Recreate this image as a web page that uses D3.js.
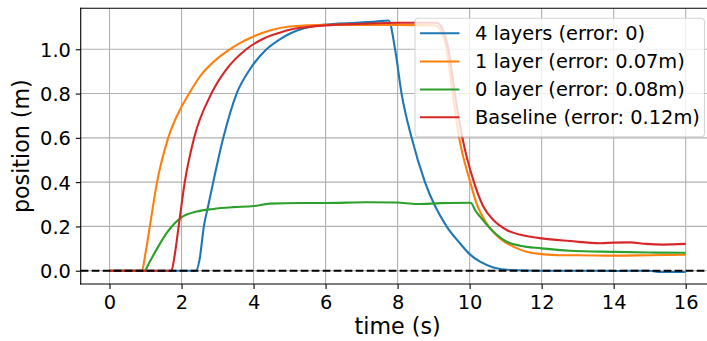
<!DOCTYPE html>
<html>
<head>
<meta charset="utf-8">
<script src="https://cdn.jsdelivr.net/npm/d3@7"></script>
<style>
  html, body { margin: 0; padding: 0; background: #fff; }
  svg { display: block; font-family: "DejaVu Sans", sans-serif; }
</style>
</head>
<body>
<svg id="chart" width="707" height="341"></svg>
<script>
// Tick values
const xTicks = [0, 2, 4, 6, 8, 10, 12, 14, 16];
const yTicks = [0.0, 0.2, 0.4, 0.6, 0.8, 1.0];

// Series labels and colours
const seriesNames = ["4 layers (error: 0)", "1 layer (error: 0.07m)", "0 layer (error: 0.08m)", "Baseline (error: 0.12m)"];
const seriesColors = ["#1f77b4", "#ff7f0e", "#2ca02c", "#d62728"];

// 4 layers
const tBlue = [0, 2.40, 2.5, 2.62, 2.75, 2.88, 3.16, 3.53, 3.9, 4.36, 4.73, 5.0, 5.4, 5.93, 6.86, 7.4, 7.75, 7.93, 8.11, 8.39, 8.76, 9.36, 9.73, 10.0, 10.29, 10.66, 11.12, 12, 13, 14, 15, 15.3, 16];
const yBlue = [0, 0, 0.05, 0.2, 0.30, 0.4, 0.6, 0.8, 0.91, 1.0, 1.045, 1.07, 1.095, 1.11, 1.12, 1.125, 1.13, 1.0, 0.8, 0.6, 0.4, 0.2, 0.124, 0.075, 0.041, 0.015, 0.003, 0.0, 0.0, -0.001, 0.0, -0.006, -0.006];

// 1 layer
const tOrange = [0, 0.90, 1.0, 1.12, 1.32, 1.63, 2.0, 2.21, 2.51, 3.06, 3.34, 3.62, 4.0, 4.45, 5.0, 6, 7, 8, 9.04, 9.16, 9.36, 9.53, 9.71, 10.0, 10.19, 10.47, 10.84, 11.21, 11.58, 12.0, 12.5, 13, 14, 15, 16];
const yOrange = [0, 0, 0.08, 0.2, 0.4, 0.6, 0.74, 0.8, 0.877, 0.967, 1.0, 1.028, 1.058, 1.085, 1.103, 1.11, 1.11, 1.11, 1.108, 1.095, 1.0, 0.8, 0.6, 0.41, 0.305, 0.214, 0.146, 0.109, 0.086, 0.075, 0.07, 0.07, 0.068, 0.07, 0.072];

// 0 layer
const tGreen = [0, 0.97, 1.1, 1.3, 1.58, 2.0, 2.42, 2.88, 3.43, 4.0, 4.45, 5.3, 6, 7.14, 7.97, 8.53, 9.2, 10.0, 10.05, 10.15, 10.29, 10.66, 11.03, 11.4, 12.0, 12.79, 14, 15, 16];
const yGreen = [0, 0, 0.035, 0.094, 0.169, 0.241, 0.267, 0.279, 0.287, 0.292, 0.303, 0.306, 0.306, 0.309, 0.308, 0.301, 0.305, 0.307, 0.305, 0.274, 0.244, 0.176, 0.131, 0.113, 0.101, 0.09, 0.085, 0.082, 0.081];

// Baseline
const tRed = [0, 1.72, 1.8, 1.92, 2.09, 2.35, 2.83, 3.25, 3.8, 4.3, 4.73, 5.0, 5.5, 6.0, 7, 8, 9.1, 9.2, 9.41, 9.59, 9.8, 10.1, 10.38, 10.66, 11.03, 11.58, 12.0, 12.79, 13.62, 14.0, 14.45, 14.9, 15.36, 16];
const yRed = [0, 0, 0.06, 0.2, 0.4, 0.6, 0.8, 0.91, 1.0, 1.05, 1.075, 1.088, 1.10, 1.108, 1.115, 1.12, 1.12, 1.105, 1.0, 0.8, 0.6, 0.41, 0.29, 0.229, 0.184, 0.157, 0.146, 0.134, 0.124, 0.127, 0.128, 0.121, 0.118, 0.121];

const seriesT = [tBlue, tOrange, tGreen, tRed];
const seriesY = [yBlue, yOrange, yGreen, yRed];

const svg = d3.select("#chart");

const plot = { left: 80.7, right: 714.5, top: 8.3, bottom: 284 };

const x = d3.scaleLinear().domain([-0.8, 16.8]).range([plot.left, plot.right]);
const y = d3.scaleLinear().domain([-0.060, 1.185]).range([plot.bottom, plot.top]);

const tickFont = 19.4;
const labelFont = 22.2;

// Grid
const grid = svg.append("g");
grid.selectAll("line.gx").data(xTicks).join("line")
  .attr("x1", d => x(d)).attr("x2", d => x(d))
  .attr("y1", plot.top).attr("y2", plot.bottom)
  .attr("stroke", "#b0b0b0").attr("stroke-width", 1.1);
grid.selectAll("line.gy").data(yTicks).join("line")
  .attr("x1", plot.left).attr("x2", plot.right)
  .attr("y1", d => y(d)).attr("y2", d => y(d))
  .attr("stroke", "#b0b0b0").attr("stroke-width", 1.1);

// Series lines
const line = d3.line()
  .x(d => x(d[0]))
  .y(d => y(d[1]))
  .curve(d3.curveMonotoneX);

seriesT.forEach((ts, i) => {
  const pts = ts.map((t, k) => [t, seriesY[i][k]]);
  svg.append("path")
    .datum(pts)
    .attr("d", line)
    .attr("fill", "none")
    .attr("stroke", seriesColors[i])
    .attr("stroke-width", 2.1)
    .attr("stroke-linejoin", "round")
    .attr("stroke-linecap", "butt");
});

// Zero reference line
svg.append("line")
  .attr("x1", plot.left).attr("x2", plot.right)
  .attr("y1", y(0)).attr("y2", y(0))
  .attr("stroke", "#000").attr("stroke-width", 2.1)
  .attr("stroke-dasharray", "7.7,3.3");

// Axes
const xAxis = d3.axisBottom(x).tickValues(xTicks).tickFormat(d3.format("d"))
  .tickSize(4.9).tickPadding(4.9);
const yAxis = d3.axisLeft(y).tickValues(yTicks).tickFormat(d3.format(".1f"))
  .tickSize(4.9).tickPadding(4.9);

const gx = svg.append("g").attr("transform", `translate(0,${plot.bottom})`).call(xAxis);
const gy = svg.append("g").attr("transform", `translate(${plot.left},0)`).call(yAxis);

[gx, gy].forEach(g => {
  g.select(".domain").remove();
  g.selectAll(".tick line").attr("stroke", "#000").attr("stroke-width", 1.1);
  g.selectAll(".tick text").attr("fill", "#000")
    .style("font-family", "DejaVu Sans")
    .style("font-size", tickFont + "px");
});
gx.selectAll(".tick text").attr("dy", "0.76em");
gy.selectAll(".tick text").attr("dy", "0.36em");

// Spines (left, bottom, top)
svg.append("line").attr("x1", plot.left).attr("x2", plot.left)
  .attr("y1", plot.top).attr("y2", plot.bottom)
  .attr("stroke", "#000").attr("stroke-width", 1.1).attr("stroke-linecap", "square");
svg.append("line").attr("x1", plot.left).attr("x2", plot.right)
  .attr("y1", plot.bottom).attr("y2", plot.bottom)
  .attr("stroke", "#000").attr("stroke-width", 1.1).attr("stroke-linecap", "square");
svg.append("line").attr("x1", plot.left).attr("x2", plot.right)
  .attr("y1", plot.top).attr("y2", plot.top)
  .attr("stroke", "#000").attr("stroke-width", 1.1).attr("stroke-linecap", "square");

// Axis titles
svg.append("text")
  .attr("x", (plot.left + plot.right) / 2).attr("y", 334)
  .attr("text-anchor", "middle")
  .style("font-size", labelFont + "px")
  .text("time (s)");
svg.append("text")
  .attr("transform", `translate(29,${(plot.top + plot.bottom) / 2}) rotate(-90)`)
  .attr("text-anchor", "middle")
  .style("font-size", labelFont + "px")
  .text("position (m)");

// Legend
const legend = svg.append("g");
legend.append("rect")
  .attr("x", 415).attr("y", 18.3)
  .attr("width", 289.5).attr("height", 118.4)
  .attr("rx", 3.5).attr("ry", 3.5)
  .attr("fill", "#fff").attr("fill-opacity", 0.8)
  .attr("stroke", "#cccccc").attr("stroke-opacity", 0.8).attr("stroke-width", 1.1);

const rowY = [33.3, 61.5, 89.5, 117.3];
seriesNames.forEach((name, i) => {
  legend.append("line")
    .attr("x1", 420).attr("x2", 459.5)
    .attr("y1", rowY[i]).attr("y2", rowY[i])
    .attr("stroke", seriesColors[i]).attr("stroke-width", 2.1);
  legend.append("text")
    .attr("x", 475).attr("y", rowY[i])
    .attr("dy", "0.36em")
    .style("font-size", tickFont + "px")
    .text(name);
});
</script>
</body>
</html>
